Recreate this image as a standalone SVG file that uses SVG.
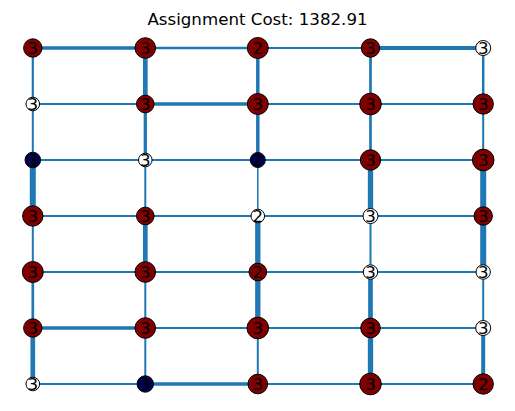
<svg xmlns="http://www.w3.org/2000/svg" width="515" height="411" viewBox="0 0 515 411">
<style>
.e{stroke:#1f77b4;fill:none;stroke-linecap:butt}
.nd circle{stroke:#000;stroke-width:1}
.r circle{fill:#800000}
.w circle{fill:#ffffff}
.n circle{fill:#00004c}
.nd text{font-family:"DejaVu Sans",sans-serif;font-size:16.67px;text-anchor:middle;fill:#000}
.t{font-family:"DejaVu Sans",sans-serif;font-size:16.67px;text-anchor:middle;fill:#000}
</style>
<rect width="515" height="411" fill="#fff"/>
<text class="t" x="257.5" y="24.5">Assignment Cost: 1382.91</text>
<g id="edges">
<line class="e" x1="32.8" y1="48" x2="145.3" y2="48" stroke-width="3.3"/>
<line class="e" x1="145.3" y1="48" x2="257.8" y2="48" stroke-width="2.7"/>
<line class="e" x1="257.8" y1="48" x2="370.5" y2="48" stroke-width="2"/>
<line class="e" x1="370.5" y1="48" x2="483.2" y2="48" stroke-width="4"/>
<line class="e" x1="32.8" y1="104" x2="145.3" y2="104" stroke-width="2"/>
<line class="e" x1="145.3" y1="104" x2="257.8" y2="104" stroke-width="3.3"/>
<line class="e" x1="257.8" y1="104" x2="370.5" y2="104" stroke-width="2"/>
<line class="e" x1="370.5" y1="104" x2="483.2" y2="104" stroke-width="2"/>
<line class="e" x1="32.8" y1="160" x2="145.3" y2="160" stroke-width="2"/>
<line class="e" x1="145.3" y1="160" x2="257.8" y2="160" stroke-width="2"/>
<line class="e" x1="257.8" y1="160" x2="370.5" y2="160" stroke-width="2"/>
<line class="e" x1="370.5" y1="160" x2="483.2" y2="160" stroke-width="2"/>
<line class="e" x1="32.8" y1="216" x2="145.3" y2="216" stroke-width="2"/>
<line class="e" x1="145.3" y1="216" x2="257.8" y2="216" stroke-width="2"/>
<line class="e" x1="257.8" y1="216" x2="370.5" y2="216" stroke-width="2"/>
<line class="e" x1="370.5" y1="216" x2="483.2" y2="216" stroke-width="2"/>
<line class="e" x1="32.8" y1="272" x2="145.3" y2="272" stroke-width="2"/>
<line class="e" x1="145.3" y1="272" x2="257.8" y2="272" stroke-width="2"/>
<line class="e" x1="257.8" y1="272" x2="370.5" y2="272" stroke-width="2"/>
<line class="e" x1="370.5" y1="272" x2="483.2" y2="272" stroke-width="2"/>
<line class="e" x1="32.8" y1="328" x2="145.3" y2="328" stroke-width="3.3"/>
<line class="e" x1="145.3" y1="328" x2="257.8" y2="328" stroke-width="2"/>
<line class="e" x1="257.8" y1="328" x2="370.5" y2="328" stroke-width="2"/>
<line class="e" x1="370.5" y1="328" x2="483.2" y2="328" stroke-width="2"/>
<line class="e" x1="32.8" y1="384" x2="145.3" y2="384" stroke-width="2"/>
<line class="e" x1="145.3" y1="384" x2="257.8" y2="384" stroke-width="3.3"/>
<line class="e" x1="257.8" y1="384" x2="370.5" y2="384" stroke-width="2"/>
<line class="e" x1="370.5" y1="384" x2="483.2" y2="384" stroke-width="2"/>
<line class="e" x1="32.8" y1="48" x2="32.8" y2="104" stroke-width="2.2"/>
<line class="e" x1="32.8" y1="104" x2="32.8" y2="160" stroke-width="2"/>
<line class="e" x1="32.8" y1="160" x2="32.8" y2="216" stroke-width="6"/>
<line class="e" x1="32.8" y1="216" x2="32.8" y2="272" stroke-width="2"/>
<line class="e" x1="32.8" y1="272" x2="32.8" y2="328" stroke-width="2.7"/>
<line class="e" x1="32.8" y1="328" x2="32.8" y2="384" stroke-width="4.7"/>
<line class="e" x1="145.3" y1="48" x2="145.3" y2="104" stroke-width="4.7"/>
<line class="e" x1="145.3" y1="104" x2="145.3" y2="160" stroke-width="3.3"/>
<line class="e" x1="145.3" y1="160" x2="145.3" y2="216" stroke-width="2"/>
<line class="e" x1="145.3" y1="216" x2="145.3" y2="272" stroke-width="4.7"/>
<line class="e" x1="145.3" y1="272" x2="145.3" y2="328" stroke-width="2"/>
<line class="e" x1="145.3" y1="328" x2="145.3" y2="384" stroke-width="2"/>
<line class="e" x1="257.8" y1="48" x2="257.8" y2="104" stroke-width="3.5"/>
<line class="e" x1="257.8" y1="104" x2="257.8" y2="160" stroke-width="3.5"/>
<line class="e" x1="257.8" y1="160" x2="257.8" y2="216" stroke-width="1.5"/>
<line class="e" x1="257.8" y1="216" x2="257.8" y2="272" stroke-width="5.3"/>
<line class="e" x1="257.8" y1="272" x2="257.8" y2="328" stroke-width="5.3"/>
<line class="e" x1="257.8" y1="328" x2="257.8" y2="384" stroke-width="2"/>
<line class="e" x1="370.5" y1="48" x2="370.5" y2="104" stroke-width="2.7"/>
<line class="e" x1="370.5" y1="104" x2="370.5" y2="160" stroke-width="2.7"/>
<line class="e" x1="370.5" y1="160" x2="370.5" y2="216" stroke-width="5.3"/>
<line class="e" x1="370.5" y1="216" x2="370.5" y2="272" stroke-width="2"/>
<line class="e" x1="370.5" y1="272" x2="370.5" y2="328" stroke-width="4.7"/>
<line class="e" x1="370.5" y1="328" x2="370.5" y2="384" stroke-width="5.3"/>
<line class="e" x1="483.2" y1="48" x2="483.2" y2="104" stroke-width="2.5"/>
<line class="e" x1="483.2" y1="104" x2="483.2" y2="160" stroke-width="2"/>
<line class="e" x1="483.2" y1="160" x2="483.2" y2="216" stroke-width="6"/>
<line class="e" x1="483.2" y1="216" x2="483.2" y2="272" stroke-width="6"/>
<line class="e" x1="483.2" y1="272" x2="483.2" y2="328" stroke-width="2"/>
<line class="e" x1="483.2" y1="328" x2="483.2" y2="384" stroke-width="4"/>
</g>
<g id="n0_0" class="nd r"><circle cx="32.8" cy="48" r="9.2"/><text x="32.8" y="54">3</text></g>
<g id="n0_1" class="nd r"><circle cx="145.3" cy="48" r="10.3"/><text x="145.3" y="54">3</text></g>
<g id="n0_2" class="nd r"><circle cx="257.8" cy="48" r="10.5"/><text x="257.8" y="54">2</text></g>
<g id="n0_3" class="nd r"><circle cx="370.5" cy="48" r="9.2"/><text x="370.5" y="54">3</text></g>
<g id="n0_4" class="nd w"><circle cx="483.2" cy="48" r="7.5"/><text x="483.2" y="54">3</text></g>
<g id="n1_0" class="nd w"><circle cx="32.8" cy="104" r="6.8"/><text x="32.8" y="110">3</text></g>
<g id="n1_1" class="nd r"><circle cx="145.3" cy="104" r="8.8"/><text x="145.3" y="110">3</text></g>
<g id="n1_2" class="nd r"><circle cx="257.8" cy="104" r="10.5"/><text x="257.8" y="110">3</text></g>
<g id="n1_3" class="nd r"><circle cx="370.5" cy="104" r="10.8"/><text x="370.5" y="110">3</text></g>
<g id="n1_4" class="nd r"><circle cx="483.2" cy="104" r="10.2"/><text x="483.2" y="110">3</text></g>
<g id="n2_0" class="nd n"><circle cx="32.8" cy="160" r="7.8"/><text x="32.8" y="166">3</text></g>
<g id="n2_1" class="nd w"><circle cx="145.3" cy="160" r="6.8"/><text x="145.3" y="166">3</text></g>
<g id="n2_2" class="nd n"><circle cx="257.8" cy="160" r="7.5"/><text x="257.8" y="166">2</text></g>
<g id="n2_3" class="nd r"><circle cx="370.5" cy="160" r="10.2"/><text x="370.5" y="166">3</text></g>
<g id="n2_4" class="nd r"><circle cx="483.2" cy="160" r="10.8"/><text x="483.2" y="166">3</text></g>
<g id="n3_0" class="nd r"><circle cx="32.8" cy="216" r="10.2"/><text x="32.8" y="222">3</text></g>
<g id="n3_1" class="nd r"><circle cx="145.3" cy="216" r="8.8"/><text x="145.3" y="222">3</text></g>
<g id="n3_2" class="nd w"><circle cx="257.8" cy="216" r="6.8"/><text x="257.8" y="222">2</text></g>
<g id="n3_3" class="nd w"><circle cx="370.5" cy="216" r="7.5"/><text x="370.5" y="222">3</text></g>
<g id="n3_4" class="nd r"><circle cx="483.2" cy="216" r="9.2"/><text x="483.2" y="222">3</text></g>
<g id="n4_0" class="nd r"><circle cx="32.8" cy="272" r="10.5"/><text x="32.8" y="278">3</text></g>
<g id="n4_1" class="nd r"><circle cx="145.3" cy="272" r="10.3"/><text x="145.3" y="278">3</text></g>
<g id="n4_2" class="nd r"><circle cx="257.8" cy="272" r="8.8"/><text x="257.8" y="278">2</text></g>
<g id="n4_3" class="nd w"><circle cx="370.5" cy="272" r="7.2"/><text x="370.5" y="278">3</text></g>
<g id="n4_4" class="nd w"><circle cx="483.2" cy="272" r="7.2"/><text x="483.2" y="278">3</text></g>
<g id="n5_0" class="nd r"><circle cx="32.8" cy="328" r="9.2"/><text x="32.8" y="334">3</text></g>
<g id="n5_1" class="nd r"><circle cx="145.3" cy="328" r="10.3"/><text x="145.3" y="334">3</text></g>
<g id="n5_2" class="nd r"><circle cx="257.8" cy="328" r="10.8"/><text x="257.8" y="334">3</text></g>
<g id="n5_3" class="nd r"><circle cx="370.5" cy="328" r="9.8"/><text x="370.5" y="334">3</text></g>
<g id="n5_4" class="nd w"><circle cx="483.2" cy="328" r="7.5"/><text x="483.2" y="334">3</text></g>
<g id="n6_0" class="nd w"><circle cx="32.8" cy="384" r="6.8"/><text x="32.8" y="390">3</text></g>
<g id="n6_1" class="nd n"><circle cx="145.3" cy="384" r="8.2"/><text x="145.3" y="390">3</text></g>
<g id="n6_2" class="nd r"><circle cx="257.8" cy="384" r="9.8"/><text x="257.8" y="390">3</text></g>
<g id="n6_3" class="nd r"><circle cx="370.5" cy="384" r="10.8"/><text x="370.5" y="390">3</text></g>
<g id="n6_4" class="nd r"><circle cx="483.2" cy="384" r="10.2"/><text x="483.2" y="390">2</text></g>
</svg>
